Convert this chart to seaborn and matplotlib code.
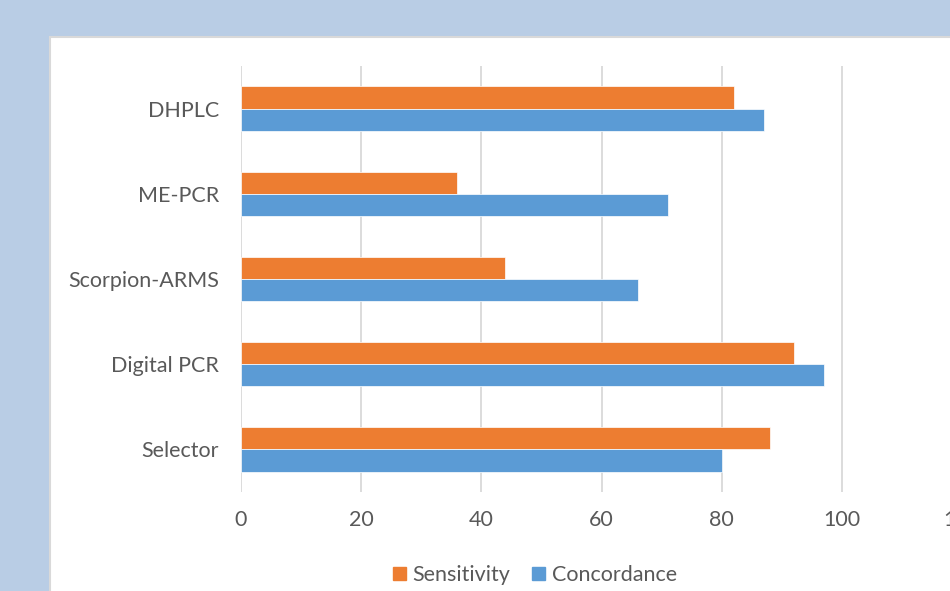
import matplotlib
matplotlib.use("Agg")
import matplotlib.pyplot as plt
import matplotlib.patches as mpatches
import pandas as pd
import seaborn as sns

# Values
methods     = ["DHPLC", "ME-PCR", "Scorpion-ARMS", "Digital PCR", "Selector"]
sensitivity = [82, 36, 44, 92, 88]
concordance = [87, 71, 66, 97, 80]
series      = ["Sensitivity", "Concordance"]
colors      = {"Sensitivity": "#ED7D31", "Concordance": "#5B9BD5"}
xticks      = [0, 20, 40, 60, 80, 100, 120]

df = pd.DataFrame({
    "method": methods * 2,
    "value": sensitivity + concordance,
    "series": ["Sensitivity"] * len(methods) + ["Concordance"] * len(methods),
})

sns.set_style("white")
plt.rcParams["font.family"] = ["Lato", "DejaVu Sans"]

fig = plt.figure(figsize=(9.5, 5.91), dpi=100)
fig.patch.set_facecolor("#B9CDE5")

# white chart panel, cropped on the right and bottom like the reference
panel = mpatches.Rectangle((50 / 950, -0.05), 1.0, 1 - 37 / 591 + 0.05,
                           transform=fig.transFigure, facecolor="white",
                           edgecolor="#D9D9D9", linewidth=1.5, zorder=-5)
fig.patches.append(panel)

ax = fig.add_axes([241 / 950, 99 / 591, 721 / 950, 426 / 591])
ax.set_facecolor("none")

sns.barplot(data=df, y="method", x="value", hue="series", order=methods,
            hue_order=series, palette=colors, saturation=1, width=0.52,
            orient="h", edgecolor="white", linewidth=0.5, ax=ax, zorder=3)

ax.set_xlim(0, 120)
ax.set_xticks(xticks)
ax.set_ylim(len(methods) - 0.5, -0.5)
ax.set_xlabel("")
ax.set_ylabel("")
ax.set_axisbelow(True)
ax.grid(axis="x", color="#D9D9D9", linewidth=1.3)
ax.grid(axis="y", visible=False)
for s in ax.spines.values():
    s.set_visible(False)
ax.tick_params(axis="x", length=0, pad=13, labelsize=15.5, labelcolor="#595959")
ax.tick_params(axis="y", length=0, pad=16, labelsize=15.5, labelcolor="#595959")

ax.legend_.remove()
handles = [mpatches.Patch(color=colors[s], label=s) for s in series]
fig.legend(handles=handles, loc="center", bbox_to_anchor=(535 / 950, 16 / 591),
           ncol=2, frameon=False, fontsize=15.5, handlelength=0.6,
           handleheight=0.6, handletextpad=0.3, columnspacing=1.0,
           labelcolor="#595959")

fig.savefig("out.png", dpi=100, facecolor=fig.get_facecolor())
